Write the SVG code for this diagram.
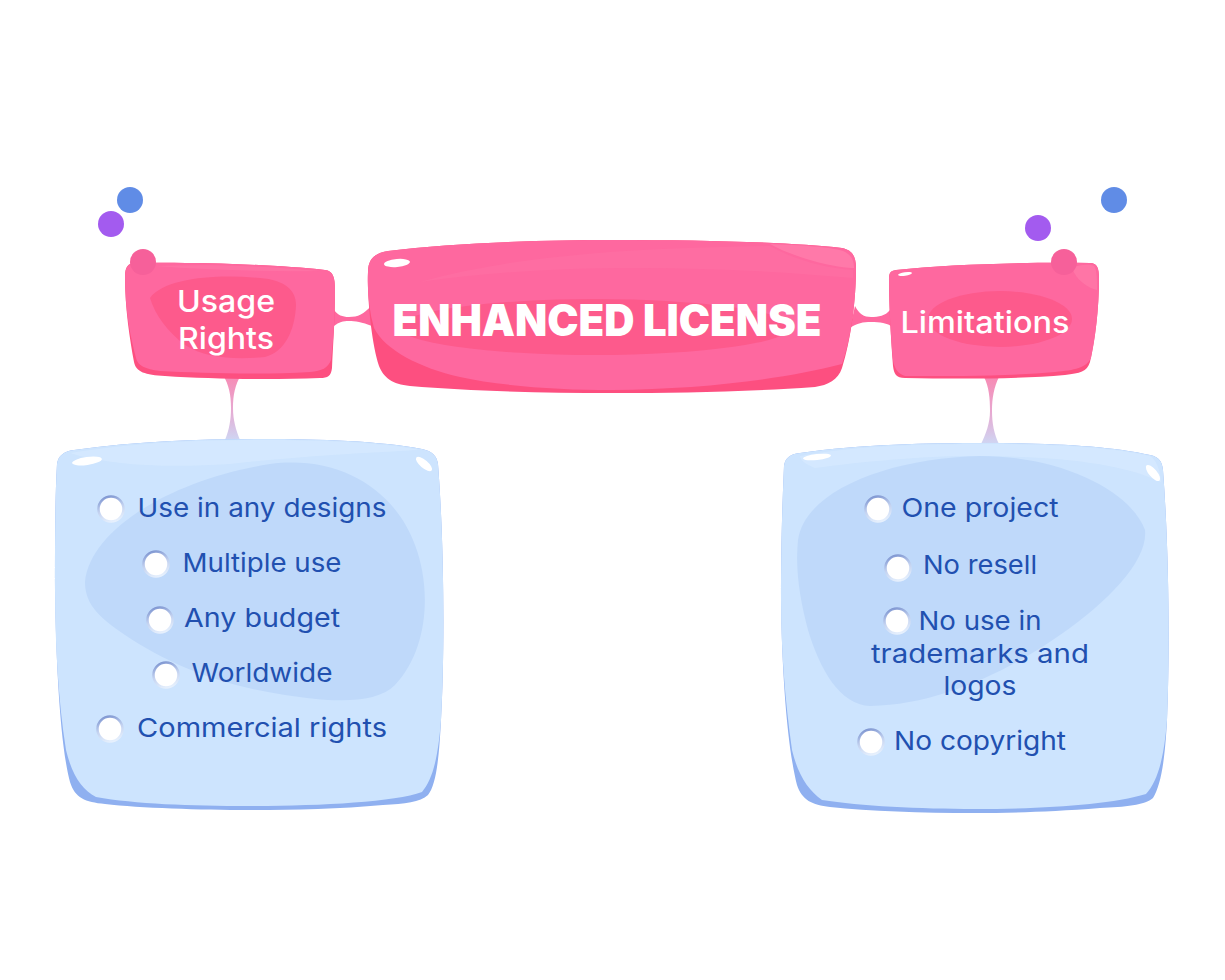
<svg xmlns="http://www.w3.org/2000/svg" width="1225" height="980" viewBox="0 0 1225 980">
<defs>
<linearGradient id="dropL" x1="0" y1="0" x2="0" y2="1"><stop offset="0" stop-color="#f78bb4"/><stop offset="0.5" stop-color="#e8a6cf"/><stop offset="1" stop-color="#cfd6f3"/></linearGradient>
<linearGradient id="ring" x1="0.3" y1="0" x2="0.6" y2="1"><stop offset="0" stop-color="#8198d2"/><stop offset="0.5" stop-color="#c3d2f0"/><stop offset="1" stop-color="#e6f0fd"/></linearGradient>
</defs>
<style>
.pink{fill:#fe689f}.pinkd{fill:#fd4f80}.pinkm{fill:#fd5a8c}.pinkl{fill:#ff7fac}
.blue{fill:#cde4fe}.blued{fill:#8fb0f0}.bluem{fill:#bfd9fa}.bluel{fill:#d9ebff}
.gl{fill:#fff}
.t{font-family:"Inter","Liberation Sans",sans-serif;fill:#2150b0;font-size:26px;text-anchor:middle}
.w{font-family:"Inter","Liberation Sans",sans-serif;fill:#fff;font-size:30px;font-weight:500;text-anchor:middle}
.h{font-family:"Inter","Liberation Sans",sans-serif;fill:#fff;font-size:44px;font-weight:900;text-anchor:middle}
.r{fill:#fff;stroke:url(#ring);stroke-width:2.5}
.k{fill:#f6609a}
</style>
<rect width="1225" height="980" fill="#fff"/>
<g id="connectors">
<path class="pink" d="M334,310 C338,315 342,317 349,317 C358,317 364,314 371,306 L372,326 C362,322 355,321 349,321 C343,321 339,322 334,326 Z"/>
<path class="pink" d="M855,306 C859,314 864,317 871,317 C879,317 885,316 890,310 L893,327 C887,323 880,322 871,322 C863,322 857,323 850,328 Z"/>
<path d="M223,375 L241,375 C235,385 233,395 233,408 C233,420 236,430 240,440 L225,440 C229,430 231,420 231,408 C231,395 229,385 223,375 Z" fill="url(#dropL)"/>
<path d="M984,377 L999,377 C994,387 992,398 992,411 C992,423 994,434 999,444 L981,444 C986,434 990,423 990,411 C990,398 989,387 984,377 Z" fill="url(#dropL)"/>
</g>
<g id="node-enhanced-license">
<path class="pinkd" d="M388,251 C450,243 540,240 615,240 C700,240 790,242 842,248 C852,250 856,256 856,268 C856,300 851,340 842,368 C838,380 828,385 815,387 C740,392 680,393 612,393 C540,393 470,391 410,386 C392,384 384,378 379,366 C372,345 367,300 368,272 C368,258 376,253 388,251 Z"/>
<path class="pink" d="M388,251 C450,243 540,240 615,240 C700,240 790,242 842,248 C852,250 856,256 856,268 C856,300 851,340 842,364 C780,380 700,389 612,390 C560,390 500,386 460,377 C420,368 385,350 374,328 C369,310 367,290 368,272 C368,258 376,253 388,251 Z"/>
<path class="pinkl" opacity="0.75" d="M770,244 C800,245 830,247 843,251 C850,254 854,259 854,268 C835,268 795,258 770,244 Z"/>
<path class="pinkl" opacity="0.22" d="M420,282 C520,254 640,248 770,246 C795,260 825,268 853,270 L853,278 C700,264 540,264 420,282 Z"/>
<ellipse class="pinkm" cx="595" cy="327" rx="196" ry="28"/>
<ellipse class="gl" cx="397" cy="263" rx="13" ry="4" transform="rotate(-5 397 263)"/>
<text class="h" x="607" y="336" textLength="429" lengthAdjust="spacingAndGlyphs">ENHANCED LICENSE</text>
</g>
<g id="node-usage-rights">
<path class="pinkd" d="M134,263 C190,262 270,264 325,270 C333,271 335,277 335,290 C335,320 333,345 332,368 C331,376 328,378 320,378 C270,380 210,379 165,376 C145,375 136,372 134,362 C130,340 125,310 125,276 C125,268 128,263 134,263 Z"/>
<path class="pink" d="M134,263 C190,262 270,264 325,270 C333,271 335,277 335,290 C335,320 333,345 331,360 C328,368 322,371 310,372 C260,375 200,373 160,371 C145,369 138,366 136,358 C130,335 125,310 125,276 C125,268 128,263 134,263 Z"/>
<path class="pinkl" opacity="0.4" d="M155,266 C210,264 270,266 320,271 C270,272 210,270 155,266 Z"/>
<path class="pinkm" d="M150,298 C165,278 215,274 260,278 C285,280 296,290 296,305 C295,330 285,352 265,357 C235,360 205,358 185,345 C168,332 155,315 150,298 Z"/>
<circle class="k" cx="143" cy="262" r="13"/>
<text class="w" x="226" y="312" textLength="98" lengthAdjust="spacingAndGlyphs">Usage</text>
<text class="w" x="226" y="349" textLength="96" lengthAdjust="spacingAndGlyphs">Rights</text>
</g>
<g id="node-limitations">
<path class="pinkd" d="M896,270 C950,264 1030,262 1090,263 C1097,263 1099,268 1099,278 C1099,310 1095,340 1090,362 C1087,372 1080,373 1065,375 C1020,379 960,379 905,378 C896,378 894,374 893,366 C891,340 889,305 889,280 C889,273 890,271 896,270 Z"/>
<path class="pink" d="M896,270 C950,264 1030,262 1090,263 C1097,263 1099,268 1099,278 C1099,310 1095,340 1091,358 C1086,368 1075,370 1055,372 C1010,376 960,376 905,376 C898,374 894,368 893,360 C891,340 889,305 889,280 C889,273 890,271 896,270 Z"/>
<path class="pinkl" opacity="0.6" d="M1072,268 C1080,264 1090,264 1094,266 C1097,270 1097,280 1097,290 C1088,288 1076,280 1072,268 Z"/>
<ellipse class="pinkm" cx="1000" cy="319" rx="72" ry="28"/>
<ellipse class="gl" cx="905" cy="274" rx="7" ry="1.8" transform="rotate(-8 905 274)"/>
<circle class="k" cx="1064" cy="262" r="13"/>
<text class="w" x="985" y="333" textLength="169" lengthAdjust="spacingAndGlyphs">Limitations</text>
</g>
<g id="node-usage-list">
<path class="blued" d="M74,450 C140,441 200,439 262,439 C320,439 380,441 422,449 C432,451 437,456 438,464 C444,540 445,650 441,720 C439,760 436,785 428,795 C420,802 405,804 383,805 C340,809 290,810 250,810 C200,810 140,808 105,804 C85,802 75,798 70,782 C60,745 56,660 55,590 C55,540 55,500 57,464 C58,456 64,451 74,450 Z"/>
<path class="blue" d="M74,450 C140,441 200,439 262,439 C320,439 380,441 422,449 C432,451 437,456 438,464 C444,540 445,650 441,720 C438,760 432,780 422,792 C395,802 320,806 250,806 C190,806 135,804 96,797 C82,790 72,775 66,750 C58,700 55,640 55,590 C55,540 55,500 57,464 C58,456 64,451 74,450 Z"/>
<path class="bluel" opacity="0.6" d="M70,453 C140,442 200,440 262,440 C320,440 380,442 420,450 C380,452 300,456 230,464 C170,468 110,466 70,453 Z"/>
<path class="bluem" d="M85,582 C90,530 170,480 270,464 C340,455 395,490 415,545 C432,590 428,650 395,685 C375,705 330,702 285,695 C220,685 170,665 125,635 C100,618 85,605 85,582 Z"/>
<ellipse class="gl" cx="87" cy="461" rx="15" ry="4" transform="rotate(-8 87 461)"/>
<ellipse class="gl" cx="424" cy="464" rx="4" ry="10" transform="rotate(-50 424 464)"/>
<circle class="r" cx="111" cy="509" r="12.5"/><text class="t" x="262" y="517" textLength="249" lengthAdjust="spacingAndGlyphs">Use in any designs</text>
<circle class="r" cx="156" cy="564" r="12.5"/><text class="t" x="262" y="572" textLength="159" lengthAdjust="spacingAndGlyphs">Multiple use</text>
<circle class="r" cx="160" cy="620" r="12.5"/><text class="t" x="262" y="627" textLength="156" lengthAdjust="spacingAndGlyphs">Any budget</text>
<circle class="r" cx="166" cy="675" r="12.5"/><text class="t" x="262" y="682" textLength="141" lengthAdjust="spacingAndGlyphs">Worldwide</text>
<circle class="r" cx="110" cy="729" r="12.5"/><text class="t" x="262" y="737" textLength="250" lengthAdjust="spacingAndGlyphs">Commercial rights</text>
</g>
<g id="node-limitations-list">
<path class="blued" d="M800,453 C860,444 930,443 985,443 C1050,443 1110,446 1150,455 C1159,457 1162,461 1163,470 C1169,550 1170,650 1167,720 C1165,760 1161,785 1153,798 C1145,805 1125,807 1100,808 C1050,812 1010,813 975,813 C920,813 870,811 830,807 C812,805 802,800 797,785 C788,750 782,680 781,600 C781,550 782,510 784,466 C785,458 790,454 800,453 Z"/>
<path class="blue" d="M800,453 C860,444 930,443 985,443 C1050,443 1110,446 1150,455 C1159,457 1162,461 1163,470 C1169,550 1170,650 1167,720 C1164,760 1157,782 1146,794 C1110,805 1040,809 975,809 C920,809 860,806 822,800 C808,790 798,775 792,750 C785,700 781,650 781,600 C781,550 782,510 784,466 C785,458 790,454 800,453 Z"/>
<path class="bluel" opacity="0.6" d="M800,456 C860,445 930,444 985,444 C1050,444 1110,447 1150,456 C1156,460 1160,468 1161,482 C1120,462 1050,456 975,456 C920,456 860,462 815,468 C805,464 800,460 800,456 Z"/>
<path class="bluem" d="M798,540 C805,490 890,458 980,456 C1060,456 1130,490 1145,530 C1148,560 1110,600 1060,635 C1010,670 940,705 870,706 C840,705 820,670 808,630 C800,600 795,570 798,540 Z"/>
<ellipse class="gl" cx="817" cy="457" rx="14" ry="3" transform="rotate(-6 817 457)"/>
<ellipse class="gl" cx="1153" cy="473" rx="4" ry="10" transform="rotate(-40 1153 473)"/>
<circle class="r" cx="878" cy="509" r="12.5"/><text class="t" x="980" y="517" textLength="157" lengthAdjust="spacingAndGlyphs">One project</text>
<circle class="r" cx="898" cy="568" r="12.5"/><text class="t" x="980" y="574" textLength="114" lengthAdjust="spacingAndGlyphs">No resell</text>
<circle class="r" cx="897" cy="621" r="12.5"/><text class="t" x="980" y="630" textLength="123" lengthAdjust="spacingAndGlyphs">No use in</text>
<text class="t" x="980" y="663" textLength="218" lengthAdjust="spacingAndGlyphs">trademarks and</text>
<text class="t" x="980" y="695" textLength="73" lengthAdjust="spacingAndGlyphs">logos</text>
<circle class="r" cx="871" cy="742" r="12.5"/><text class="t" x="980" y="750" textLength="172" lengthAdjust="spacingAndGlyphs">No copyright</text>
</g>
<g id="dots">
<circle cx="130" cy="200" r="13" fill="#608ce6"/>
<circle cx="111" cy="224" r="13" fill="#a35bef"/>
<circle cx="1038" cy="228" r="13" fill="#a35bef"/>
<circle cx="1114" cy="200" r="13" fill="#608ce6"/>
</g>
</svg>
